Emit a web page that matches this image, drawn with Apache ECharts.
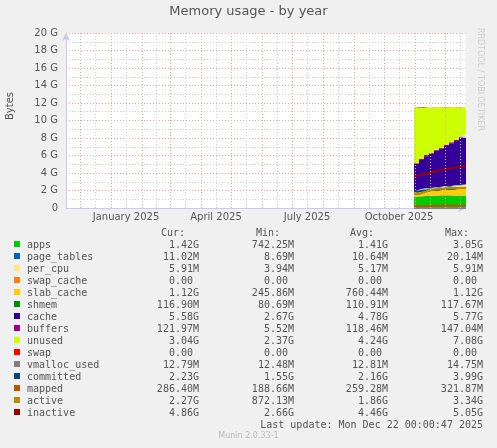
<!DOCTYPE html>
<html lang="en">
<head>
    <meta charset="UTF-8">
    <title>Memory usage - by year</title>
    <script src="https://cdn.jsdelivr.net/npm/echarts@6/dist/echarts.min.js"></script>
    <style>
        body{margin:0;background:#f0f0f0;}
        #main{width:497px;height:448px;}
    </style>
</head>
<body>
<div id="main"></div>
<script>
    // sample dates (data only exists from end of October)
    var dates = ['2025-10-31','2025-11-05','2025-11-10','2025-11-15','2025-11-20','2025-11-25','2025-11-30','2025-12-05','2025-12-10','2025-12-15','2025-12-22']
    // values in G
    var apps       = [1.30,1.35,1.40,1.38,1.42,1.40,1.45,1.41,1.43,1.42,1.42]
    var pageTables = [0.010,0.010,0.011,0.011,0.011,0.011,0.011,0.011,0.011,0.011,0.011]
    var perCpu     = [0.006,0.006,0.006,0.006,0.006,0.006,0.006,0.006,0.006,0.006,0.006]
    var swapCache  = [0,0,0,0,0,0,0,0,0,0,0]
    var slabCache  = [0.50,0.60,0.70,0.75,0.80,0.85,0.90,0.95,1.00,1.08,1.12]
    var shmem      = [0.10,0.11,0.11,0.11,0.11,0.11,0.11,0.11,0.12,0.12,0.117]
    var cache      = [3.10,3.40,3.70,3.95,4.20,4.40,4.60,4.90,5.10,5.40,5.58]
    var buffers    = [0.10,0.11,0.12,0.12,0.12,0.12,0.12,0.12,0.12,0.12,0.122]
    var unused     = [6.38,5.96,5.45,5.17,4.84,4.61,4.30,4.00,3.72,3.34,3.04]
    var swap       = [0,0,0,0,0,0,0,0,0,0,0]
    var vmalloc    = [0.013,0.013,0.013,0.013,0.013,0.013,0.013,0.013,0.013,0.013,0.013]
    var committed  = [1.90,2.00,2.00,2.10,2.10,2.20,2.20,2.20,2.30,2.30,2.23]
    var mapped     = [0.20,0.22,0.25,0.26,0.27,0.28,0.28,0.29,0.29,0.29,0.286]
    var active     = [1.60,1.80,2.00,2.10,2.20,2.20,2.30,2.30,2.30,2.30,2.27]
    var inactive   = [3.70,3.85,4.00,4.15,4.30,4.40,4.50,4.60,4.70,4.80,4.86]

    var yTicks = ['0','2 G','4 G','6 G','8 G','10 G','12 G','14 G','16 G','18 G','20 G']
    var monthStarts = ['2024-12-01','2025-01-01','2025-02-01','2025-03-01','2025-04-01','2025-05-01','2025-06-01','2025-07-01','2025-08-01','2025-09-01','2025-10-01','2025-11-01','2025-12-01']
    var midMonths = ['2024-11-16','2024-12-16','2025-01-16','2025-02-15','2025-03-16','2025-04-16','2025-05-16','2025-06-16','2025-07-16','2025-08-16','2025-09-16','2025-10-16','2025-11-16','2025-12-16']
    var labelDates = ['2025-01-16','2025-04-16','2025-07-16','2025-10-16']
    var labelTexts = ['January 2025','April 2025','July 2025','October 2025']

    // legend table
    var names = ['apps','page_tables','per_cpu','swap_cache','slab_cache','shmem','cache','buffers','unused','swap','vmalloc_used','committed','mapped','active','inactive']
    var colors = ['#00cc00','#0066b3','#ffe680','#ff8000','#ffcc00','#008f00','#330099','#990099','#ccff00','#ff0000','#808080','#00487d','#b35a00','#b38f00','#990000']
    var curs = ['1.42G','11.02M','5.91M','0.00 ','1.12G','116.90M','5.58G','121.97M','3.04G','0.00 ','12.79M','2.23G','286.40M','2.27G','4.86G']
    var mins = ['742.25M','8.69M','3.94M','0.00 ','245.86M','80.69M','2.67G','5.52M','2.37G','0.00 ','12.48M','1.55G','188.66M','872.13M','2.66G']
    var avgs = ['1.41G','10.64M','5.17M','0.00 ','760.44M','110.91M','4.78G','118.46M','4.24G','0.00 ','12.81M','2.16G','259.28M','1.86G','4.46G']
    var maxs = ['3.05G','20.14M','5.91M','0.00 ','1.12G','117.67M','5.77G','147.04M','7.08G','0.00 ','14.75M','3.99G','321.87M','3.34G','5.05G']

    var stacked = [apps,pageTables,perCpu,swapCache,slabCache,shmem,cache,buffers,unused,swap]
    var lines = [vmalloc,committed,mapped,active,inactive]

    function pairs(vals){
        return vals.map(function(v,i){return [dates[i],v]})
    }

    var series = []
    // grid: gray half-month lines, red month lines
    series.push({
        type:'line',data:[],silent:true,z:1,
        markLine:{symbol:'none',silent:true,animation:false,
            data:midMonths.map(function(d){return {xAxis:d}}),
            lineStyle:{color:'#d0d0d0',type:[1,2],width:1},label:{show:false}}
    })
    series.push({
        type:'line',data:[],silent:true,z:1,
        markLine:{symbol:'none',silent:true,animation:false,
            data:monthStarts.map(function(d){return {xAxis:d}}),
            lineStyle:{color:'#f0a0a0',type:[1,2],width:1},label:{show:false}}
    })
    stacked.forEach(function(vals,i){
        series.push({
            name:names[i],type:'line',stack:'mem',step:'end',symbol:'none',z:3,
            data:pairs(vals),lineStyle:{width:0},
            areaStyle:{color:colors[i],opacity:1},itemStyle:{color:colors[i]}
        })
    })
    lines.forEach(function(vals,i){
        var k = i+10
        series.push({
            name:names[k],type:'line',step:'end',symbol:'none',z:4,
            data:pairs(vals),lineStyle:{width:2,color:colors[k]},itemStyle:{color:colors[k]}
        })
    })

    var graphics = [
        {type:'text',left:'center',top:5,style:{text:'Memory usage - by year',fill:'#555',font:'13px DejaVu Sans'}},
        {type:'text',x:5,y:120,rotation:Math.PI/2,style:{text:'Bytes',fill:'#555',font:'10px DejaVu Sans'}},
        {type:'text',x:484,y:28,rotation:-Math.PI/2,style:{text:'RRDTOOL / TOBI OETIKER',fill:'#ccc',font:'8px DejaVu Sans'}},
        {type:'text',x:185,y:228,style:{text:'Cur:',fill:'#555',font:'10px DejaVu Sans Mono',align:'right'}},
        {type:'text',x:280,y:228,style:{text:'Min:',fill:'#555',font:'10px DejaVu Sans Mono',align:'right'}},
        {type:'text',x:374,y:228,style:{text:'Avg:',fill:'#555',font:'10px DejaVu Sans Mono',align:'right'}},
        {type:'text',x:469,y:228,style:{text:'Max:',fill:'#555',font:'10px DejaVu Sans Mono',align:'right'}},
        {type:'text',x:483,y:420,style:{text:'Last update: Mon Dec 22 00:00:47 2025',fill:'#555',font:'10px DejaVu Sans Mono',align:'right'}},
        {type:'text',left:'center',y:432,style:{text:'Munin 2.0.33-1',fill:'#bbb',font:'8px DejaVu Sans'}}
    ]
    names.forEach(function(n,i){
        var y = 240 + i*12
        graphics.push({type:'rect',shape:{x:14,y:y+1,width:6,height:6},style:{fill:colors[i]}})
        graphics.push({type:'text',x:27,y:y,style:{text:n,fill:'#555',font:'10px DejaVu Sans Mono'}})
        graphics.push({type:'text',x:199,y:y,style:{text:curs[i],fill:'#555',font:'10px DejaVu Sans Mono',align:'right'}})
        graphics.push({type:'text',x:294,y:y,style:{text:mins[i],fill:'#555',font:'10px DejaVu Sans Mono',align:'right'}})
        graphics.push({type:'text',x:388,y:y,style:{text:avgs[i],fill:'#555',font:'10px DejaVu Sans Mono',align:'right'}})
        graphics.push({type:'text',x:483,y:y,style:{text:maxs[i],fill:'#555',font:'10px DejaVu Sans Mono',align:'right'}})
    })

    var myChart = echarts.init(document.getElementById('main'))
    myChart.setOption({
        backgroundColor:'#f0f0f0',
        animation:false,
        grid:{left:66,right:31,top:33,bottom:240,show:true,backgroundColor:'#fff',borderWidth:0},
        xAxis:{
            type:'time',min:'2024-11-17',max:'2025-12-22',
            axisLine:{lineStyle:{color:'#c8c8ff'},symbol:['none','arrow'],symbolSize:[6,8]},
            axisTick:{show:false},axisLabel:{show:false},splitLine:{show:false}
        },
        yAxis:{
            type:'value',min:0,max:20,interval:2,
            axisLine:{show:true,lineStyle:{color:'#c8c8ff'},symbol:['none','arrow'],symbolSize:[6,8]},
            axisTick:{show:false},
            axisLabel:{color:'#555',fontSize:10,fontFamily:'DejaVu Sans',formatter:function(v){return yTicks[v/2]}},
            splitLine:{lineStyle:{color:'#f0a0a0',type:[1,2]}},
            minorTick:{show:false,splitNumber:2},
            minorSplitLine:{show:true,lineStyle:{color:'#d0d0d0',type:[1,2]}}
        },
        series:series,
        graphic:graphics
    })
    // quarter labels placed at mid-month through the x scale
    labelDates.forEach(function(d,i){
        var p = myChart.convertToPixel({xAxisIndex:0,yAxisIndex:0},[d,0])
        graphics.push({type:'text',x:p[0],y:p[1]+4,style:{text:labelTexts[i],fill:'#555',font:'10px DejaVu Sans',align:'center'}})
    })
    myChart.setOption({graphic:graphics})
</script>
</body>
</html>
